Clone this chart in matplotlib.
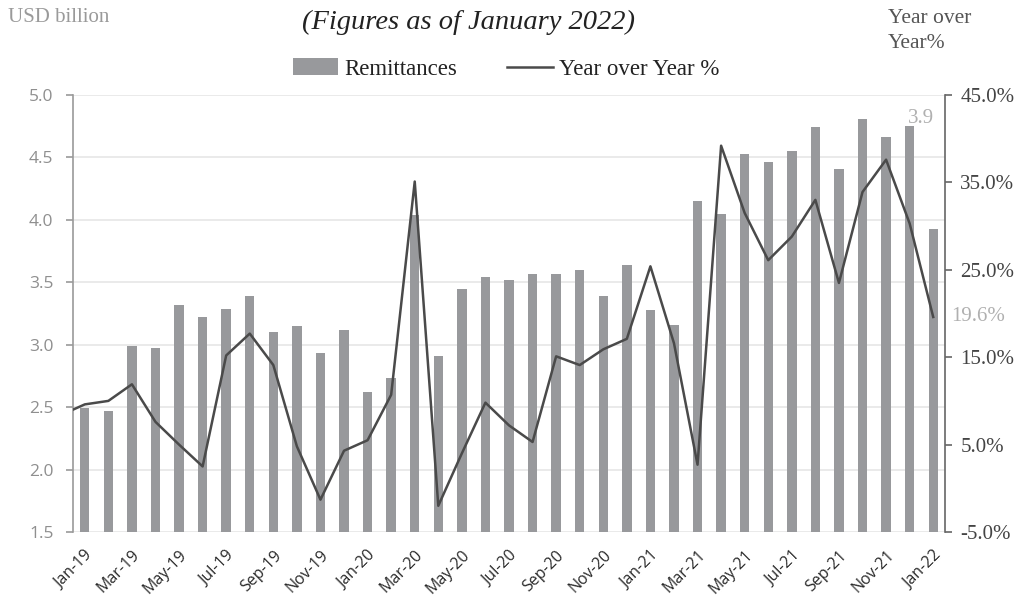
import matplotlib
matplotlib.use("Agg")
import matplotlib.pyplot as plt
import numpy as np

months = ["Jan-19","Feb-19","Mar-19","Apr-19","May-19","Jun-19","Jul-19","Aug-19","Sep-19","Oct-19","Nov-19","Dec-19",
          "Jan-20","Feb-20","Mar-20","Apr-20","May-20","Jun-20","Jul-20","Aug-20","Sep-20","Oct-20","Nov-20","Dec-20",
          "Jan-21","Feb-21","Mar-21","Apr-21","May-21","Jun-21","Jul-21","Aug-21","Sep-21","Oct-21","Nov-21","Dec-21",
          "Jan-22"]
remittances = [2.49, 2.47, 2.99, 2.97, 3.32, 3.22, 3.29, 3.39, 3.10, 3.15, 2.93, 3.12,
               2.62, 2.73, 4.04, 2.91, 3.45, 3.54, 3.52, 3.57, 3.57, 3.60, 3.39, 3.64,
               3.28, 3.16, 4.15, 4.05, 4.53, 4.46, 4.55, 4.74, 4.41, 4.81, 4.66, 4.75,
               3.93]
yoy = [9.6, 10.0, 11.9, 7.6, 5.0, 2.5, 15.2, 17.7, 14.1, 4.8, -1.3, 4.3,
       5.5, 10.7, 35.1, -2.0, 4.0, 9.8, 7.2, 5.3, 15.1, 14.1, 15.9, 17.1,
       25.4, 16.6, 2.7, 39.2, 31.5, 26.1, 28.8, 33.0, 23.5, 33.9, 37.6, 30.3,
       19.6]
yoy_start = 9.0  # line enters from the left edge of the plot
left_ticks = [1.5, 2.0, 2.5, 3.0, 3.5, 4.0, 4.5, 5.0]
right_ticks = [-5, 5, 15, 25, 35, 45]

serif = ["Liberation Serif", "DejaVu Serif"]
sans = ["Open Sans", "DejaVu Sans"]

fig = plt.figure(figsize=(10.25, 6.04), dpi=100)
ax = fig.add_axes([73/1025, 1-532/604, (945-73)/1025, (532-95)/604])
x = np.arange(len(months))

ax.bar(x, remittances, width=0.4, color="#98999c", zorder=2, label="Remittances")
ax.set_xlim(-0.5, len(months) - 0.5)
ax.set_ylim(1.5, 5.0)
ax.set_yticks(left_ticks)
ax.set_yticklabels([f"{v:.1f}" for v in left_ticks], fontsize=12.5, color="#8f8f8f", family=sans)
ax.grid(axis="y", color="#e6e6e6", linewidth=1.2, zorder=0)
ax.set_axisbelow(True)
for s in ["top", "right", "bottom"]:
    ax.spines[s].set_visible(False)
ax.spines["left"].set_color("#9a9a9a")
ax.spines["left"].set_linewidth(1.2)
ax.tick_params(axis="y", length=5, color="#9a9a9a", width=1.2, pad=9)
ax.set_xticks(x[::2])
ax.set_xticklabels(months[::2], rotation=45, ha="right", rotation_mode="anchor",
                   fontsize=11.5, color="#2a2a2a", family=sans)
ax.tick_params(axis="x", length=0, pad=11)

ax2 = ax.twinx()
ax2.plot(np.concatenate([[-0.5], x]), [yoy_start] + yoy, color="#4a4a4a", linewidth=1.8,
         zorder=3, label="Year over Year %")
ax2.set_ylim(-5, 45)
ax2.set_yticks(right_ticks)
ax2.set_yticklabels([f"{v:.1f}%" for v in right_ticks], fontsize=15, color="#444444", family=serif)
for s in ["top", "left", "bottom"]:
    ax2.spines[s].set_visible(False)
ax2.spines["right"].set_color("#666666")
ax2.spines["right"].set_linewidth(1.2)
ax2.tick_params(axis="y", length=5, color="#666666", width=1.2, pad=6)

# data labels
ax.text(36.5 - 1.0, 4.81, f"{remittances[-1]:.1f}", fontsize=15, color="#b0b0b0",
        family=serif, ha="center", va="center")
ax2.text(36.75, yoy[-1], f"{yoy[-1]:.1f}%", fontsize=15, color="#b0b0b0",
         family=serif, ha="left", va="center", clip_on=False)

fig.text(8/1025, 1-18/604, "USD billion", fontsize=15, color="#9a9a9a", family=serif,
         ha="left", va="center")
fig.text(469/1025, 1-22/604, "(Figures as of January 2022)", fontsize=20.5, style="italic",
         color="#222222", family=serif, ha="center", va="center")
fig.text(888/1025, 1-31/604, "Year over\nYear%", fontsize=15.5, color="#555555", family=serif,
         ha="left", va="center", linespacing=1.45)

h1, l1 = ax.get_legend_handles_labels()
h2, l2 = ax2.get_legend_handles_labels()
fig.legend(h1 + h2, l1 + l2, loc="center", bbox_to_anchor=(506/1025, 1-69/604), ncol=2,
           frameon=False, prop={"family": serif, "size": 16.5}, handlelength=2.0,
           handletextpad=0.25, columnspacing=2.2, labelcolor="#222222")

fig.savefig("out.png", dpi=100)
